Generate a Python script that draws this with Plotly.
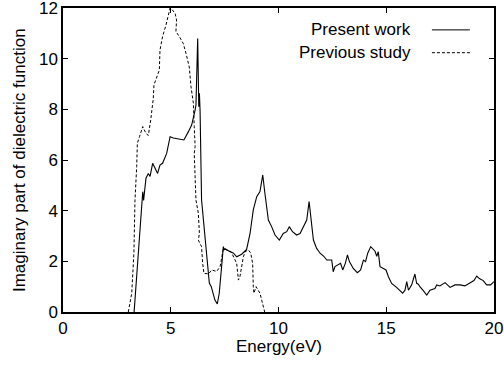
import plotly.graph_objects as go

# Present work (solid)
present_x = [3.30, 3.50, 3.70, 3.74, 3.85, 3.96, 4.04, 4.16, 4.27, 4.39, 4.50, 4.62, 4.81, 4.97,
             5.12, 5.43, 5.61, 5.82, 5.97, 6.13, 6.17, 6.25, 6.30, 6.33, 6.36, 6.43, 6.51, 6.67,
             6.79, 6.88, 7.05, 7.16, 7.25, 7.36, 7.44, 7.48, 7.52, 7.75, 7.90, 8.06, 8.29, 8.52,
             8.68, 8.83, 8.99, 9.14, 9.27, 9.37, 9.53, 9.68, 9.84, 10.04, 10.22, 10.38, 10.50,
             10.65, 10.84, 11.00, 11.15, 11.31, 11.42, 11.50, 11.62, 11.77, 11.93, 12.10, 12.24,
             12.47, 12.54, 12.62, 12.78, 12.88, 12.98, 13.10, 13.20, 13.29, 13.47, 13.66, 13.81,
             13.94, 14.04, 14.14, 14.28, 14.41, 14.48, 14.56, 14.63, 14.71, 14.86, 14.99, 15.10,
             15.25, 15.48, 15.76, 15.87, 15.95, 16.03, 16.18, 16.33, 16.41, 16.49, 16.56, 16.70,
             16.88, 17.03, 17.26, 17.34, 17.49, 17.73, 17.96, 18.19, 18.42, 18.65, 18.88, 19.07,
             19.20, 19.32, 19.50, 19.66, 19.84, 19.96, 20.00]
present_y = [0.00, 2.40, 4.75, 4.40, 5.28, 5.47, 5.35, 5.87, 5.68, 5.47, 5.80, 5.87, 6.26, 6.92,
             6.87, 6.82, 6.79, 7.12, 7.38, 7.97, 8.17, 10.80, 8.10, 8.63, 7.97, 4.42, 3.63, 2.33,
             1.14, 1.00, 0.47, 0.32, 0.74, 1.79, 2.58, 2.45, 2.50, 2.38, 2.33, 2.18, 2.28, 2.47,
             3.10, 4.03, 4.55, 4.75, 5.41, 4.68, 3.63, 3.37, 3.04, 2.84, 3.10, 3.17, 3.37,
             3.17, 3.04, 3.10, 3.37, 3.63, 4.36, 3.63, 2.84, 2.51, 2.32, 2.20, 2.05,
             2.05, 1.59, 1.79, 1.86, 1.92, 1.66, 1.92, 2.25, 1.99, 1.72, 1.55, 1.66,
             2.05, 1.99, 2.32, 2.58, 2.48, 2.40, 2.20, 2.38, 1.79, 1.72, 1.66, 1.39,
             1.13, 0.97, 0.74, 0.86, 1.20, 0.86, 1.07, 1.50, 1.13, 1.10, 1.00, 0.86,
             0.67, 0.86, 0.93, 1.07, 1.03, 1.16, 0.97, 1.07, 1.07, 1.03, 1.16, 1.24,
             1.42, 1.32, 1.24, 1.07, 1.07, 1.20, 1.20]

# Previous study (dashed)
previous_x = [3.03, 3.19, 3.29, 3.34, 3.42, 3.45, 3.55, 3.65, 3.70, 3.85, 3.96, 4.07, 4.19, 4.22,
              4.35, 4.47, 4.50, 4.62, 4.78, 4.89, 4.97, 5.05, 5.20, 5.27, 5.24, 5.40, 5.58, 5.71,
              5.86, 5.94, 6.05, 6.09, 6.13, 6.09, 6.13, 6.17, 6.28, 6.33, 6.28, 6.43, 6.48, 6.54,
              6.75, 6.90, 7.13, 7.29, 7.44, 7.60, 7.80, 8.06, 8.14, 8.21, 8.29, 8.37, 8.45, 8.60,
              8.71, 8.80, 8.83, 8.86, 8.96, 9.06, 9.14, 9.22, 9.30, 9.36]
previous_y = [0.00, 0.74, 2.33, 4.42, 5.74, 6.66, 6.92, 7.25, 7.32, 7.05, 6.97, 7.58, 8.43, 8.96,
              9.29, 9.55, 10.34, 10.87, 11.33, 11.79, 12.00, 11.95, 11.79, 11.53, 11.07, 10.87, 10.60, 10.20,
              9.67, 8.89, 8.24, 7.32, 6.53, 6.26, 5.47, 4.42, 3.90, 3.10, 2.84, 2.58, 1.92, 1.53,
              1.50, 1.66, 1.60, 1.79, 2.50, 2.45, 2.38, 1.92, 1.26, 1.40, 1.79, 2.18, 2.38, 2.45,
              2.33, 1.92, 1.00, 0.74, 1.00, 0.87, 0.74, 0.47, 0.21, 0.00]

x_ticks = [0, 5, 10, 15, 20]
y_ticks = [0, 2, 4, 6, 8, 10, 12]
x_title = "Energy(eV)"
y_title = "Imaginary part of dielectric function"
legend_labels = ["Present work", "Previous study"]

FONT = "Liberation Sans, Arial, Helvetica, sans-serif"
TXT = dict(family=FONT, size=17, color="black")

fig = go.Figure()
fig.add_trace(go.Scatter(x=present_x, y=present_y, mode="lines",
                         line=dict(color="black", width=1.1), showlegend=False))
fig.add_trace(go.Scatter(x=previous_x, y=previous_y, mode="lines",
                         line=dict(color="black", width=1, dash="3px,2px"), showlegend=False))

axis_common = dict(showgrid=False, zeroline=False, showline=True, linecolor="black",
                   linewidth=1.5, mirror="ticks", ticks="inside", ticklen=5, tickwidth=1,
                   tickcolor="black", automargin=False, ticklabeloverflow="allow",
                   tickfont=TXT)

fig.update_xaxes(range=[0, 20], tickvals=x_ticks, **axis_common)
fig.update_yaxes(range=[0, 12], tickvals=y_ticks, **axis_common)

# axis titles placed like the original
fig.add_annotation(xref="paper", yref="paper", x=0.5, y=-0.112, text=x_title,
                   showarrow=False, xanchor="center", yanchor="middle", font=TXT)
fig.add_annotation(xref="paper", yref="paper", x=-0.102, y=0.5, text=y_title, textangle=-90,
                   showarrow=False, xanchor="center", yanchor="middle", font=TXT)

# gnuplot-style key: text on the left, line sample on the right
legend_rows = [(legend_labels[0], 0.928, "solid"), (legend_labels[1], 0.853, "3px,2px")]
for label, ypos, dash in legend_rows:
    fig.add_annotation(xref="paper", yref="paper", x=0.812, y=ypos, text=label,
                       showarrow=False, xanchor="right", yanchor="middle", font=TXT)
    fig.add_shape(type="line", xref="paper", yref="paper", x0=0.856, x1=0.944, y0=ypos, y1=ypos,
                  line=dict(color="black", width=1, dash=dash))

fig.update_layout(width=504, height=366, margin=dict(l=63, r=10, t=8, b=54),
                  paper_bgcolor="white", plot_bgcolor="white", font=TXT)

fig.write_html("out.html")
